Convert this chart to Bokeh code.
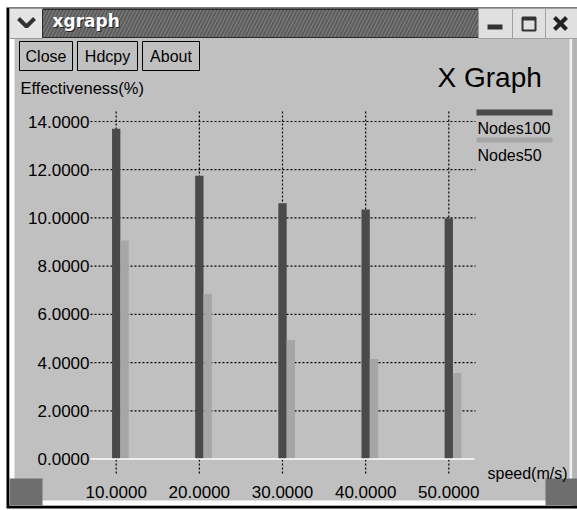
from bokeh.plotting import figure
from bokeh.models import Range1d, ColumnDataSource
from bokeh.core.properties import value
from bokeh.embed import file_html
from bokeh.resources import INLINE

# ---------------- data ----------------
speed = [10, 20, 30, 40, 50]
nodes100 = [13.70, 11.75, 10.61, 10.35, 9.99]
nodes50 = [9.06, 6.85, 4.94, 4.15, 3.57]
series_names = ["Nodes100", "Nodes50"]
y_ticks = [0, 2, 4, 6, 8, 10, 12, 14]
y_tick_labels = ["0.0000", "2.0000", "4.0000", "6.0000", "8.0000",
                 "10.0000", "12.0000", "14.0000"]
x_tick_labels = ["10.0000", "20.0000", "30.0000", "40.0000", "50.0000"]
chart_title = "X Graph"
x_label = "speed(m/s)"
y_label = "Effectiveness(%)"
window_title = "xgraph"
button_labels = ["Close", "Hdcpy", "About"]

# ---------------- layout ----------------
W, H = 577, 510
X_REF_PX, X_REF, X_PX_PER_UNIT = 282.0, 30.0, 8.315
Y_ZERO_PX, Y_PX_PER_UNIT = 458.5, 24.107
PLOT_L, PLOT_R, PLOT_T, TICK_B = 90, 475, 111, 475
BAR_W = 1.0

FONT = value("Liberation Sans")
BG = "#c0c0c0"
DARK = "#4a4a4a"
LIGHT = "#a6a6a6"

p = figure(width=W, height=H, x_range=Range1d(0, W), y_range=Range1d(H, 0),
           x_axis_type=None, y_axis_type=None, output_backend="svg",
           toolbar_location=None, min_border=0,
           background_fill_color="white", border_fill_color="white",
           outline_line_color=None)
p.extra_x_ranges = {"dx": Range1d(X_REF - X_REF_PX / X_PX_PER_UNIT,
                                  X_REF + (W - X_REF_PX) / X_PX_PER_UNIT)}
p.extra_y_ranges = {"dy": Range1d(-(H - Y_ZERO_PX) / Y_PX_PER_UNIT,
                                  Y_ZERO_PX / Y_PX_PER_UNIT)}

# ---------------- window chrome (pixel space) ----------------
p.quad(left=[6], right=[W], top=[7], bottom=[508], fill_color="black", line_color=None)
p.quad(left=[9], right=[572], top=[8], bottom=[505], fill_color=BG, line_color=None)
p.quad(left=[9], right=[14], top=[38], bottom=[500], fill_color="white", line_color=None)
p.quad(left=[572], right=[W], top=[38], bottom=[505], fill_color="#b4b4b4", line_color=None)
p.quad(left=[569], right=[572], top=[38], bottom=[500], fill_color="#f0f0f0", line_color=None)
p.quad(left=[9], right=[572], top=[500], bottom=[505], fill_color="white", line_color=None)
p.quad(left=[9, 545], right=[42, W], top=[478, 478], bottom=[505, 505],
       fill_color="#6e6e6e", line_color=None)

# title bar
p.quad(left=[9], right=[42], top=[8], bottom=[38], fill_color="#e4e4e4", line_color="#9a9a9a")
p.quad(left=[42], right=[478], top=[9], bottom=[37], fill_color="#5c5c5c",
       line_color="#2a2a2a", hatch_pattern="/", hatch_color="#7a7a7a",
       hatch_scale=7, hatch_weight=1.2)
p.quad(left=[478, 512, 545], right=[512, 545, W], top=[8, 8, 8], bottom=[38, 38, 38],
       fill_color="#e0e0e0", line_color="#a0a0a0")
p.line(x=[18, 26, 34], y=[18, 26, 18], line_width=4, line_color="#333333")
p.text(x=[53], y=[31], text=[window_title], text_font=value("DejaVu Sans"),
       text_font_style="bold", text_font_size="17px", text_color="#222222")
p.text(x=[52], y=[30], text=[window_title], text_font=value("DejaVu Sans"),
       text_font_style="bold", text_font_size="17px", text_color="white")
p.quad(left=[487], right=[502], top=[24], bottom=[29], fill_color="#333333", line_color=None)
p.quad(left=[522], right=[535], top=[17], bottom=[30], fill_color=None,
       line_color="#333333", line_width=2)
p.quad(left=[522], right=[535], top=[17], bottom=[20], fill_color="#333333", line_color=None)
p.segment(x0=[554, 554], y0=[17, 29], x1=[566, 566], y1=[29, 17],
          line_width=4, line_color="#222222")

# buttons
btn_left = [19, 77, 142]
btn_right = [72, 137, 199]
p.quad(left=btn_left, right=btn_right, top=[41] * 3, bottom=[70] * 3,
       fill_color=BG, line_color="black", line_width=1)
p.text(x=[(a + b) / 2 for a, b in zip(btn_left, btn_right)], y=[56] * 3,
       text=button_labels, text_font=FONT, text_font_size="16px",
       text_align="center", text_baseline="middle", text_color="black")

# titles
p.text(x=[437], y=[77], text=[chart_title], text_font=FONT, text_font_size="28px",
       text_baseline="alphabetic", text_color="black")
p.text(x=[20], y=[87], text=[y_label], text_font=FONT, text_font_size="16.5px",
       text_baseline="middle", text_color="black")
p.text(x=[487], y=[473], text=[x_label], text_font=FONT, text_font_size="16px",
       text_baseline="middle", text_color="black")

# ---------------- grid (dotted) ----------------
grid_y = y_ticks[1:]
p.segment(x0=[PLOT_L] * len(grid_y), x1=[PLOT_R] * len(grid_y), y0=grid_y, y1=grid_y,
          y_range_name="dy", line_color="black", line_width=1.2, line_dash="2 2")
p.segment(x0=speed, x1=speed, y0=[PLOT_T] * len(speed), y1=[TICK_B] * len(speed),
          x_range_name="dx", line_color="black", line_width=1.2, line_dash="2 2")

# ---------------- bars ----------------
src = ColumnDataSource(dict(x100=speed, x50=[s + BAR_W for s in speed],
                            n100=nodes100, n50=nodes50))
p.vbar(x="x100", top="n100", bottom=0, width=BAR_W, source=src,
       x_range_name="dx", y_range_name="dy", fill_color=DARK, line_color=None)
p.vbar(x="x50", top="n50", bottom=0, width=BAR_W, source=src,
       x_range_name="dx", y_range_name="dy", fill_color=LIGHT, line_color=None)

# x axis line
p.segment(x0=[PLOT_L], x1=[PLOT_R - 1], y0=[0], y1=[0], y_range_name="dy",
          line_color="white", line_width=1.5)

# tick labels
p.text(x=[89] * len(y_ticks), y=y_ticks, text=y_tick_labels, y_range_name="dy",
       text_font=FONT, text_font_size="17px", text_align="right",
       text_baseline="middle", text_color="black")
p.text(x=speed, y=[491] * len(speed), text=x_tick_labels, x_range_name="dx",
       text_font=FONT, text_font_size="17px", text_align="center",
       text_baseline="middle", text_color="black")

# legend
p.quad(left=[476, 476], right=[552, 552], top=[109, 137], bottom=[115, 142],
       fill_color=[DARK, LIGHT], line_color=None)
p.text(x=[477, 477], y=[128, 155], text=series_names, text_font=FONT,
       text_font_size="16px", text_baseline="alphabetic", text_color="black")

open("out.html", "w").write(file_html(p, INLINE))
